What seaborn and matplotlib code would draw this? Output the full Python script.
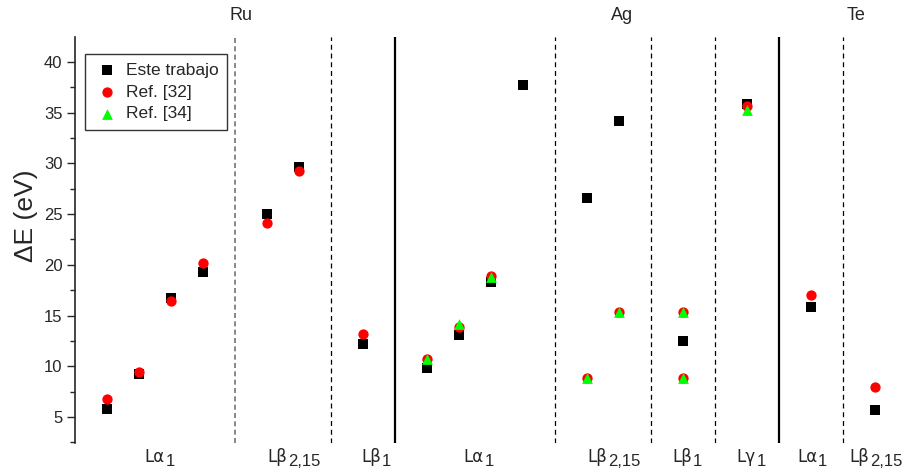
import pandas as pd
import numpy as np
import matplotlib
matplotlib.use('Agg')
import matplotlib.pyplot as plt
from matplotlib.ticker import MultipleLocator
import seaborn as sns

# slot positions along x (one slot per transition point)
este_x = [1, 2, 3, 4, 6, 7, 9, 11, 12, 13, 14, 16, 17, 19, 21, 23, 25]
este_y = [5.76, 9.24, 16.77, 19.33, 24.99, 29.69, 12.2, 9.8, 13.09, 18.34,
          37.7, 26.57, 34.16, 12.5, 35.9, 15.88, 5.66]
ref32_x = [1, 2, 3, 4, 6, 7, 9, 11, 12, 13, 16, 17, 19, 19, 21, 23, 25]
ref32_y = [6.8, 9.47, 16.47, 20.16, 24.1, 29.29, 13.15, 10.72, 13.9, 18.9,
           8.88, 15.38, 15.38, 8.88, 35.7, 17.0, 7.99]
ref34_x = [11, 12, 13, 16, 17, 19, 19, 21]
ref34_y = [10.7, 14.2, 18.8, 8.88, 15.38, 15.38, 8.88, 35.28]

series_names = ['Este trabajo', 'Ref. [32]', 'Ref. [34]']

# transition labels under the points: main part + subscript
trans_main = ['Lα', 'Lβ', 'Lβ', 'Lα', 'Lβ', 'Lβ', 'Lγ', 'Lα', 'Lβ']
trans_sub = ['1', '2,15', '1', '1', '2,15', '1', '1', '1', '2,15']
trans_pos = [2.84, 6.66, 9.59, 12.79, 16.66, 19.31, 21.3, 23.22, 24.84]

elements = ['Ru', 'Ag', 'Te']
element_pos = [5.2, 17.1, 24.4]

dashed_pos = [8, 15, 18, 20, 24]
solid_pos = [10, 22]

df = pd.concat([
    pd.DataFrame({'x': este_x, 'y': este_y, 'serie': series_names[0]}),
    pd.DataFrame({'x': ref32_x, 'y': ref32_y, 'serie': series_names[1]}),
    pd.DataFrame({'x': ref34_x, 'y': ref34_y, 'serie': series_names[2]}),
], ignore_index=True)

sns.set_style('ticks')
plt.rcParams['font.family'] = ['Liberation Sans', 'DejaVu Sans']

fig = plt.figure(figsize=(9.08, 4.76), dpi=100)
ax = fig.add_axes([0.0826, 0.0693, 0.9165, 0.853])

palette = {'Este trabajo': 'black', 'Ref. [32]': '#ff0000', 'Ref. [34]': '#00ff00'}
markers = {'Este trabajo': 's', 'Ref. [32]': 'o', 'Ref. [34]': '^'}
sizes = {'Este trabajo': 48, 'Ref. [32]': 55, 'Ref. [34]': 60}
for name in series_names:
    sns.scatterplot(data=df[df.serie == name], x='x', y='y', color=palette[name],
                    marker=markers[name], s=sizes[name], linewidth=0,
                    label=name, ax=ax, zorder=3)

ax.axvline(5, color='0.45', ls=(0, (3, 2)), lw=1.2)
for xv in dashed_pos:
    ax.axvline(xv, color='black', ls=(0, (4, 3)), lw=0.9)
for xv in solid_pos:
    ax.axvline(xv, color='black', lw=1.6)

ax.set_xlim(0, 26)
ax.set_ylim(2.44, 42.46)
ax.set_xticks([])
ax.yaxis.set_major_locator(MultipleLocator(5))
ax.yaxis.set_minor_locator(MultipleLocator(2.5))
ax.tick_params(axis='y', which='major', length=6, width=1, labelsize=12, pad=3)
ax.tick_params(axis='y', which='minor', length=3.5, width=1)
sns.despine(ax=ax, top=True, right=True, bottom=True)
ax.spines['left'].set_linewidth(1.2)
ax.set_xlabel('')
ax.set_ylabel('ΔE (eV)', fontsize=19)
ax.yaxis.set_label_coords(-0.045, 0.559)

xtr = ax.get_xaxis_transform()
for main, sub, xp in zip(trans_main, trans_sub, trans_pos):
    ax.annotate(main, xy=(xp, -0.034), xycoords=xtr, xytext=(-1, 0),
                textcoords='offset pixels', ha='right', va='center', fontsize=12,
                family=['DejaVu Sans'])
    ax.annotate(sub, xy=(xp, -0.034), xycoords=xtr, xytext=(0, -5),
                textcoords='offset pixels', ha='left', va='center', fontsize=12)
for lab, xp in zip(elements, element_pos):
    ax.text(xp, 1.054, lab, transform=xtr, ha='center', va='center', fontsize=13)

leg = ax.legend(loc='upper left', bbox_to_anchor=(0.012, 0.958), fontsize=12.5,
                frameon=True, fancybox=False, edgecolor='black',
                handletextpad=0.35, borderpad=0.5, labelspacing=0.38,
                handlelength=1.5, borderaxespad=0)
leg.get_frame().set_linewidth(1.0)

fig.savefig('out.png', dpi=100)
